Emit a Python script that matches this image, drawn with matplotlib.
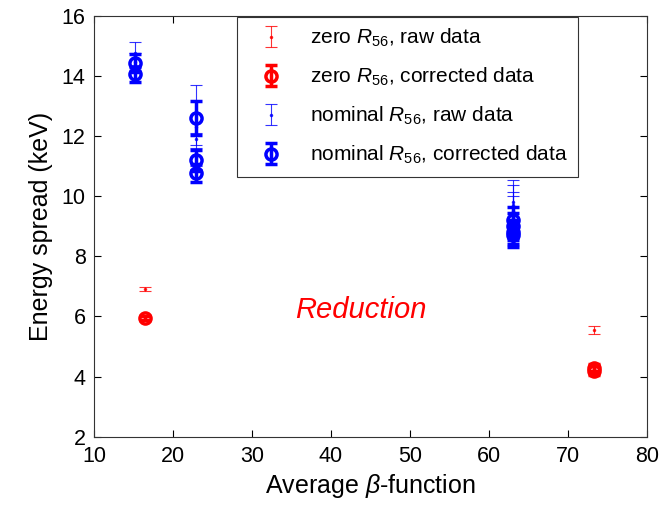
import matplotlib
matplotlib.use("Agg")
import matplotlib.pyplot as plt

plt.rcParams['font.family'] = ['Liberation Sans', 'DejaVu Sans']
plt.rcParams['mathtext.fontset'] = 'custom'
plt.rcParams['mathtext.rm'] = 'Liberation Sans'
plt.rcParams['mathtext.it'] = 'Liberation Sans:italic'

# zero R56
zero_raw_x = [16.5, 73.3]
zero_raw_y = [6.92, 5.55]
zero_raw_err = [0.06, 0.12]
zero_cor_x = [16.5, 73.3, 73.3]
zero_cor_y = [5.95, 4.2, 4.3]
zero_cor_err = [0.08, 0.15, 0.12]

# nominal R56
nom_raw_x = [15.2, 15.2, 22.9, 22.9, 22.9, 63.0, 63.0, 63.0, 63.0]
nom_raw_y = [14.75, 14.45, 12.3, 11.9, 11.3, 9.8, 9.7, 9.5, 9.4]
nom_raw_err = [0.38, 0.3, 1.4, 0.2, 0.3, 0.75, 0.68, 0.65, 0.6]
nom_cor_x = [15.2, 15.2, 22.9, 22.9, 22.9, 63.0, 63.0, 63.0, 63.0]
nom_cor_y = [14.42, 14.06, 12.6, 11.2, 10.78, 9.2, 9.0, 8.8, 8.7]
nom_cor_err = [0.3, 0.25, 0.55, 0.35, 0.3, 0.45, 0.45, 0.4, 0.4]

fig, ax = plt.subplots(figsize=(6.62, 5.09), dpi=100)
fig.subplots_adjust(left=0.142, right=0.977, top=0.969, bottom=0.142)

ax.errorbar(zero_raw_x, zero_raw_y, yerr=zero_raw_err, fmt='.', color='red',
            ms=3, lw=0.8, capsize=4, capthick=0.8, alpha=0.8,
            label=r'zero $R_{56}$, raw data')
ax.errorbar(zero_cor_x, zero_cor_y, yerr=zero_cor_err, fmt='o', color='red',
            mfc='none', ms=8, mew=2.5, lw=2.5, capsize=4, capthick=2.5,
            label=r'zero $R_{56}$, corrected data')
ax.errorbar(nom_raw_x, nom_raw_y, yerr=nom_raw_err, fmt='.', color='blue',
            ms=3, lw=0.8, capsize=4, capthick=0.8, alpha=0.8,
            label=r'nominal $R_{56}$, raw data')
ax.errorbar(nom_cor_x, nom_cor_y, yerr=nom_cor_err, fmt='o', color='blue',
            mfc='none', ms=8, mew=2.5, lw=2.5, capsize=4, capthick=2.5,
            label=r'nominal $R_{56}$, corrected data')

ax.text(43.8, 6.2, 'Reduction', color='red', style='italic', fontsize=21,
        ha='center', va='center')

ax.set_xlim(10, 80)
ax.set_ylim(2, 16)
ax.set_xticks(range(10, 81, 10))
ax.set_yticks(range(2, 17, 2))
ax.tick_params(direction='in', top=True, right=True, labelsize=15.5, length=5)
ax.tick_params(axis='x', pad=7)
ax.tick_params(axis='y', pad=6)
for s in ax.spines.values():
    s.set_linewidth(0.8)
    s.set_color('#333333')
ax.set_xlabel(r'Average $\beta$-function', fontsize=18, labelpad=3)
ax.set_ylabel('Energy spread (keV)', fontsize=18, labelpad=6)

leg = ax.legend(loc='upper left', bbox_to_anchor=(0.259, 0.998), fontsize=15,
                fancybox=False, edgecolor='#333333', framealpha=1,
                handlelength=2.2, borderpad=0.5, labelspacing=0.8,
                borderaxespad=0)
leg.get_frame().set_linewidth(0.8)

fig.savefig('out.png', dpi=100)
